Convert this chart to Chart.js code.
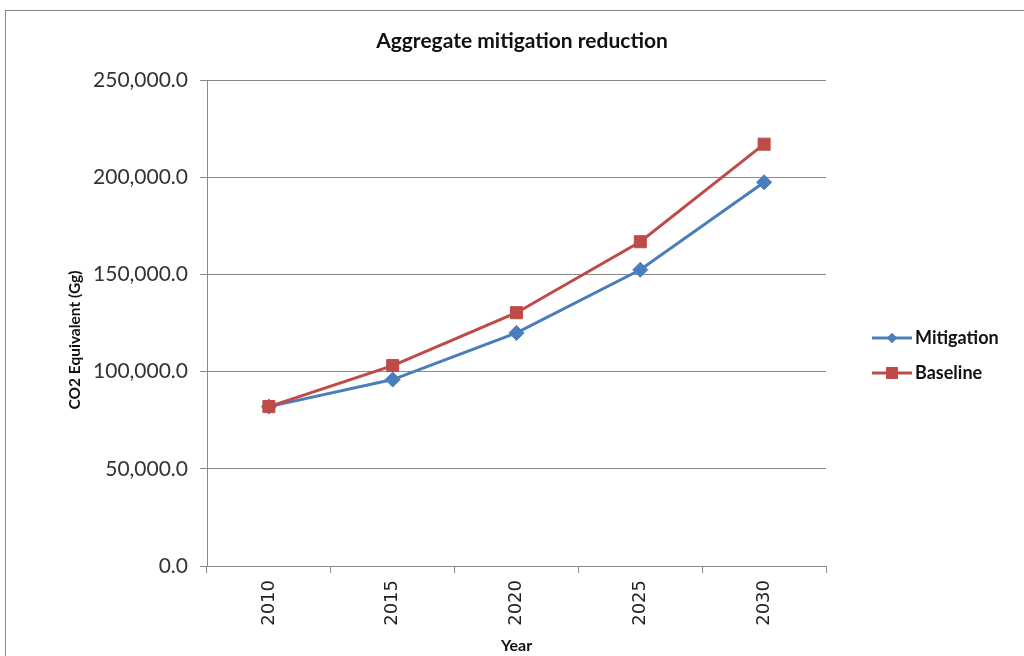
<!DOCTYPE html>
<html>
<head>
<meta charset="utf-8">
<script src="https://cdn.jsdelivr.net/npm/chart.js@4/dist/chart.umd.min.js"></script>
<style>
  html, body { margin: 0; padding: 0; background: #fff; overflow: hidden; }
  #wrap { position: relative; width: 1024px; height: 656px; }
  #frame { position: absolute; left: 5px; top: 10px; width: 1040px; height: 680px; border: 1px solid #8a8a8a; box-sizing: border-box; pointer-events: none; }
  canvas { position: absolute; left: 0; top: 0; }
</style>
</head>
<body>
<div id="wrap">
  <canvas id="chart" width="1024" height="656"></canvas>
  <div id="frame"></div>
</div>
<script>
// Aggregate emissions, CO2 equivalent (Gg)
const years = ['2010', '2015', '2020', '2025', '2030'];
const mitigation = [82000, 95900, 119900, 152400, 197400];
const baseline = [82000, 103100, 130300, 166800, 217000];
const yTicks = [0, 50000, 100000, 150000, 200000, 250000];

const seriesNames = ['Mitigation', 'Baseline'];
const seriesColors = ['#4A7EBB', '#BE4B48'];
const chartTitle = 'Aggregate mitigation reduction';
const yTitle = 'CO2 Equivalent (Gg)';
const xTitle = 'Year';

// Title, vertical axis title and the side legend (line + marker + label)
const decorations = {
  id: 'decorations',
  afterDraw(chart) {
    const ctx = chart.ctx;
    ctx.save();
    ctx.fillStyle = '#111';
    ctx.textAlign = 'center';
    ctx.textBaseline = 'middle';
    ctx.font = 'bold 21px Lato';
    ctx.fillText(chartTitle, 522, 41);

    ctx.translate(75, 340);
    ctx.rotate(-Math.PI / 2);
    ctx.font = 'bold 15.5px Lato';
    ctx.fillText(yTitle, 0, 0);
    ctx.restore();

    const x0 = 872, x1 = 912, rows = [338, 373];
    chart.data.datasets.forEach((ds, i) => {
      const y = rows[i];
      const cx = (x0 + x1) / 2;
      ctx.save();
      ctx.strokeStyle = ds.borderColor;
      ctx.fillStyle = ds.borderColor;
      ctx.lineWidth = 3;
      ctx.beginPath();
      ctx.moveTo(x0, y);
      ctx.lineTo(x1, y);
      ctx.stroke();
      ctx.beginPath();
      const r = ds.pointRadius * Math.SQRT1_2;
      if (ds.pointStyle === 'rect') {
        ctx.rect(cx - r, y - r, 2 * r, 2 * r);
      } else {
        ctx.moveTo(cx - r, y); ctx.lineTo(cx, y - r); ctx.lineTo(cx + r, y); ctx.lineTo(cx, y + r); ctx.closePath();
      }
      ctx.fill();
      ctx.fillStyle = '#111';
      ctx.font = 'bold 18px Lato';
      ctx.textBaseline = 'middle';
      ctx.textAlign = 'left';
      ctx.fillText(ds.label, x1 + 3, y);
      ctx.restore();
    });
  }
};

new Chart(document.getElementById('chart'), {
  type: 'line',
  data: {
    labels: years,
    datasets: [
      {
        label: seriesNames[0],
        data: mitigation,
        borderColor: seriesColors[0],
        backgroundColor: seriesColors[0],
        borderWidth: 3,
        pointStyle: 'rectRot',
        pointRadius: 7.5,
        pointBorderWidth: 1,
        order: 1,
        tension: 0
      },
      {
        label: seriesNames[1],
        data: baseline,
        borderColor: seriesColors[1],
        backgroundColor: seriesColors[1],
        borderWidth: 3,
        pointStyle: 'rect',
        pointRadius: 8.5,
        pointBorderWidth: 1,
        order: 0,
        tension: 0
      }
    ]
  },
  options: {
    responsive: false,
    animation: false,
    layout: { padding: { left: 0, right: 198, top: 80, bottom: 0 } },
    plugins: {
      legend: { display: false },
      tooltip: { enabled: false },
      title: { display: false }
    },
    scales: {
      x: {
        offset: true,
        grid: { display: true, offset: true, drawOnChartArea: false, drawTicks: true, tickLength: 7, color: '#8a8a8a' },
        border: { color: '#8a8a8a', width: 1 },
        ticks: {
          color: '#222',
          font: { family: 'DejaVu Sans', size: 18 },
          minRotation: 90,
          maxRotation: 90,
          padding: 7
        },
        title: {
          display: true,
          text: xTitle,
          color: '#111',
          font: { family: 'Lato', size: 16, weight: 'bold' },
          padding: { top: 0, bottom: 1 }
        },
        afterFit(scale) { scale.height = 90; }
      },
      y: {
        min: 0,
        max: 250000,
        afterBuildTicks(scale) { scale.ticks = yTicks.map(v => ({ value: v })); },
        grid: { color: '#8a8a8a', lineWidth: 1, drawTicks: true, tickLength: 7 },
        border: { color: '#8a8a8a', width: 1 },
        ticks: {
          color: '#333',
          font: { family: 'Lato', size: 21 },
          padding: 12,
          callback: v => Number(v).toLocaleString('en-US', { minimumFractionDigits: 1, maximumFractionDigits: 1 })
        },
        afterFit(scale) { scale.width = 207; }
      }
    }
  },
  plugins: [decorations]
});
</script>
</body>
</html>
